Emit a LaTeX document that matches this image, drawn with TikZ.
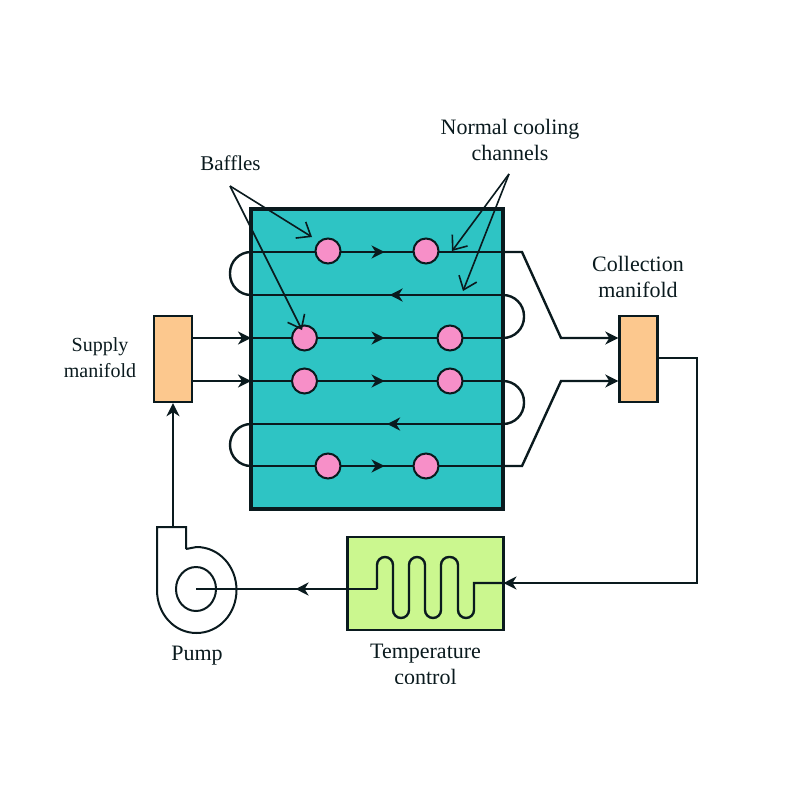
\documentclass[tikz,border=0pt]{standalone}
\usepackage{fontspec}
\setmainfont{Liberation Serif}
\usetikzlibrary{arrows.meta,decorations.markings,shapes.geometric}
\definecolor{boxteal}{HTML}{2EC4C4}
\definecolor{manifold}{HTML}{FCC88E}
\definecolor{bafflepink}{HTML}{F78FC8}
\definecolor{coolgreen}{HTML}{CBF78F}
\definecolor{ink}{HTML}{0A1A1E}
\tikzset{
  pipe/.style={draw=ink,line width=2.4pt,line join=miter},
  tip/.style={-{Stealth[length=13pt,width=13pt,inset=4pt]}},
  midtip/.style={postaction={decorate},decoration={markings,mark=at position #1 with {\arrow{Stealth[length=13pt,width=13pt,inset=4pt]}}}},
  leader/.style={draw=ink,line width=1.6pt,-{Straight Barb[length=12pt,width=19pt,line width=1.6pt]}},
  baffle/.style={circle,draw=ink,fill=bafflepink,line width=2pt,minimum size=25pt,inner sep=0pt},
  mani/.style={rectangle,draw=ink,fill=manifold,line width=2.4pt,minimum width=38pt,minimum height=86pt,inner sep=0pt},
  lab/.style={font=\fontsize{22}{26.5}\selectfont,text=ink,inner sep=0pt,align=center}
}
\begin{document}
\begin{tikzpicture}[x=1pt,y=-1pt]
\useasboundingbox (0,0) rectangle (800,800);
% main block
\node[rectangle,fill=boxteal,minimum width=252pt,minimum height=300pt,inner sep=0pt] (block) at (377,359) {};
% channel end points
\foreach \n/\y in {a/252,b/295,c/338,d/381,e/424,f/466}{
  \coordinate (\n L) at (251,\y);
  \coordinate (\n R) at (503,\y);
}
% manifolds
\node[mani] (supply) at (173,359) {};
\node[mani] (collect) at (638.5,359) {};
% channels
\draw[pipe,midtip=0.53] (aL) -- (aR);
\draw[pipe,midtip=0.45] (bR) -- (bL);
\draw[pipe,midtip=0.53] (cL) -- (cR);
\draw[pipe,midtip=0.53] (dL) -- (dR);
\draw[pipe,midtip=0.46] (eR) -- (eL);
\draw[pipe,midtip=0.53] (fL) -- (fR);
% return bends
\draw[pipe,rounded corners=21pt] (aL) -- (230,252) -- (230,295) -- (bL);
\draw[pipe,rounded corners=21pt] (bR) -- (524,295) -- (524,338) -- (cR);
\draw[pipe,rounded corners=21pt] (dR) -- (524,381) -- (524,424) -- (eR);
\draw[pipe,rounded corners=21pt] (eL) -- (230,424) -- (230,466) -- (fL);
% block outline
\draw[draw=ink,line width=3.6pt] (block.north west) rectangle (block.south east);
% baffles
\node[baffle] (b1) at (328,251) {};
\node[baffle] (b2) at (426,251) {};
\node[baffle] (b3) at (304.5,338) {};
\node[baffle] (b4) at (450,338) {};
\node[baffle] (b5) at (304.5,381) {};
\node[baffle] (b6) at (450,381) {};
\node[baffle] (b7) at (328,466) {};
\node[baffle] (b8) at (426,466) {};
% supply to block
\draw[pipe,tip] (supply.east |- cL) -- (cL);
\draw[pipe,tip] (supply.east |- dL) -- (dL);
% block to collection
\coordinate (k1) at (522,252);
\coordinate (k2) at (561,338);
\coordinate (k3) at (522,466);
\coordinate (k4) at (561,381);
\draw[pipe,tip] (aR) -- (k1) -- (k2) -- (collect.west |- k2);
\draw[pipe,tip] (fR) -- (k3) -- (k4) -- (collect.west |- k4);
% temperature control
\node[rectangle,draw=ink,fill=coolgreen,line width=2.4pt,minimum width=156pt,minimum height=93pt,inner sep=0pt] (temp) at (425.5,583.5) {};
\coordinate (tempin) at (503.5,583);
\coordinate (cor1) at (697,358);
\coordinate (cor2) at (697,583);
\draw[pipe,tip] (collect.east |- cor1) -- (cor1) -- (cor2) -- (tempin);
% coil
\coordinate (coilend) at (377,589);
\draw[pipe] (tempin) -- (474,583) [rounded corners=8pt] -- (474,618) -- (458,618) -- (458,557) -- (441,557) -- (441,618) -- (425,618) -- (425,557) -- (409,557) -- (409,618) -- (393,618) -- (393,557) -- (377,557) [sharp corners] -- (coilend);
% pump
\node[ellipse,draw=ink,line width=2pt,minimum width=40pt,minimum height=44pt,inner sep=0pt] (eye) at (196,589) {};
\coordinate (pumpout) at (173,527);
\draw[draw=ink,line width=2pt,line join=miter] (186,549) -- (186,527) -- (157,527) -- (157,590)
  .. controls (157,613.7) and (174,633) .. (196.5,633)
  .. controls (219,633) and (236.5,613.7) .. (236.5,590)
  .. controls (236.5,566.3) and (219,547) .. (196.5,547)
  -- (186,549);
\draw[pipe,midtip=0.45] (coilend) -- (eye.center);
\draw[pipe,tip] (pumpout) -- (supply.south);
% leaders
\coordinate (bafflesapex) at (230,186);
\coordinate (coolapex) at (509,174);
\coordinate (cht1) at (452,251);
\coordinate (cht2) at (463,291);
\coordinate (bft1) at (312,237);
\coordinate (bft2) at (302,330);
\draw[leader] (bafflesapex) -- (bft1);
\draw[leader] (bafflesapex) -- (bft2);
\draw[leader] (coolapex) -- (cht1);
\draw[leader] (coolapex) -- (cht2);
% labels
\node[lab,font=\fontsize{21}{26}\selectfont] (tbaffles) at (230.5,163) {Baffles};
\node[lab] (tcool) at (510,140) {Normal cooling\\channels};
\node[lab] (tcollect) at (638,277) {Collection\\manifold};
\node[lab,font=\fontsize{20}{26}\selectfont] (tsupply) at (100,358) {Supply\\manifold};
\node[lab] (tpump) at (197,656) {Pump};
\begin{scope}
\clip (340,632) rectangle (520,683);
\node[lab] (ttemp) at (425.5,664.5) {Temperature\\control};
\end{scope}
\end{tikzpicture}
\end{document}
